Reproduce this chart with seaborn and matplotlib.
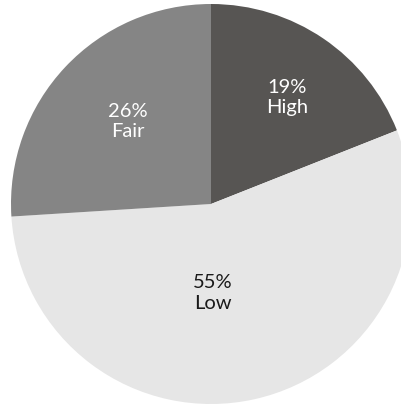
import matplotlib
matplotlib.use("Agg")
import matplotlib.pyplot as plt
import seaborn as sns
import numpy as np

categories = ["High", "Low", "Fair"]
values = [19, 55, 26]
colors = ["#575553", "#e6e6e6", "#858585"]
text_colors = ["white", "#1a1a1a", "white"]
# label placement (fraction of radius, angle in degrees)
label_pos = [(0.66, 54.6), (0.44, -89.0), (0.59, 135.0)]

sns.set_theme(style="white")
plt.rcParams["font.family"] = ["Lato", "DejaVu Sans"]

fig = plt.figure(figsize=(4.02, 4.06), dpi=100)
ax = fig.add_axes([11 / 402, 1 / 406, 400 / 402, 400 / 406])
wedges, _ = ax.pie(values, colors=sns.color_palette(colors), startangle=90,
                   counterclock=False, radius=1.0,
                   wedgeprops=dict(linewidth=0, antialiased=True))
ax.set_xlim(-1, 1)
ax.set_ylim(-1, 1)
ax.set_aspect("auto")
ax.axis("off")

total = sum(values)
for cat, v, tc, (r, ang) in zip(categories, values, text_colors, label_pos):
    x = r * np.cos(np.radians(ang))
    y = r * np.sin(np.radians(ang))
    ax.text(x, y, f"{round(v / total * 100)}%\n{cat}", ha="center", va="center",
            color=tc, fontsize=14.5, fontweight="normal", linespacing=1.25)

fig.savefig("out.png", dpi=100)
